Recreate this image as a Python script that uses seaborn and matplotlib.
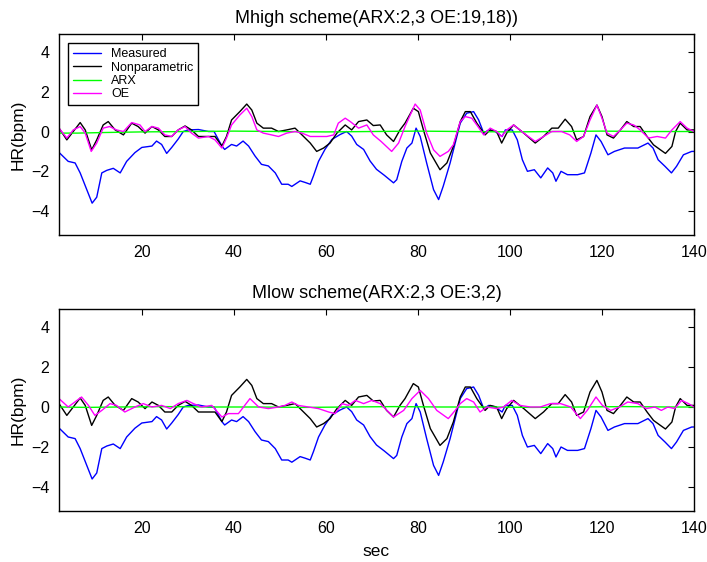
import numpy as np
import pandas as pd
import matplotlib
matplotlib.use("Agg")
import matplotlib.pyplot as plt
import seaborn as sns

# ---------------- data ----------------
meas_t = [2.0, 4.0, 5.5, 6.6, 8.0, 9.2, 10.2, 11.3, 12.4, 13.8, 15.3, 16.7, 18.5, 20.0,
          22.2, 23.2, 24.3, 25.4, 26.5, 27.9, 29.0, 30.1, 32.3, 34.5, 35.7, 37.4, 38.0,
          39.5, 40.6, 42.0, 43.2, 44.6, 46.0, 47.5, 49.0, 50.4, 51.8, 52.6, 54.4, 55.5,
          56.6, 57.3, 58.4, 59.8, 61.3, 63.1, 64.5, 65.6, 66.7, 68.2, 69.6, 71.0, 72.7,
          74.7, 75.4, 76.5, 77.6, 78.7, 79.6, 80.5, 81.9, 83.4, 84.5, 85.5, 87.0, 88.1,
          89.2, 90.6, 92.1, 93.2, 94.3, 95.4, 96.8, 98.3, 99.0, 100.5, 101.6, 102.7,
          103.8, 105.3, 106.7, 108.2, 109.3, 110.0, 111.1, 112.5, 114.7, 116.2, 117.6,
          118.7, 119.8, 121.3, 122.7, 124.9, 127.8, 130.0, 131.1, 132.2, 133.7, 135.1,
          136.2, 137.7, 139.5, 140.0]
meas_v = [-1.05, -1.5, -1.58, -2.08, -2.9, -3.6, -3.3, -2.08, -1.95, -1.85, -2.08, -1.5,
          -1.06, -0.8, -0.73, -0.48, -0.65, -1.1, -0.8, -0.38, 0.0, 0.08, 0.1, 0.0, 0.0,
          -0.73, -0.9, -0.65, -0.73, -0.48, -0.73, -1.23, -1.65, -1.73, -2.08, -2.65,
          -2.65, -2.76, -2.48, -2.56, -2.65, -2.23, -1.5, -0.9, -0.4, -0.15, 0.0, -0.23,
          -0.65, -0.9, -1.48, -1.9, -2.2, -2.58, -2.42, -1.5, -0.83, -0.58, 0.17, -0.25,
          -1.58, -2.92, -3.42, -2.75, -1.58, -0.58, 0.42, 0.92, 1.0, 0.58, -0.08, 0.08,
          0.0, -0.25, 0.08, 0.08, -0.42, -1.42, -2.0, -1.92, -2.33, -1.83, -2.08, -2.5,
          -2.0, -2.17, -2.17, -2.08, -1.08, -0.17, -0.5, -1.17, -1.0, -0.83, -0.83, -0.58,
          -0.83, -1.42, -1.75, -2.08, -1.75, -1.17, -1.0, -1.0]

nonpar_t = [2.0, 3.7, 5.1, 6.6, 7.7, 9.1, 10.2, 11.6, 12.7, 14.2, 16.0, 17.8, 19.2, 20.7,
            22.2, 23.6, 25.0, 26.5, 27.9, 29.4, 30.8, 32.3, 34.5, 35.9, 37.4, 38.4, 39.5,
            41.3, 42.8, 43.9, 45.0, 46.4, 48.2, 49.7, 51.5, 53.3, 54.8, 56.6, 58.0, 59.5,
            60.9, 62.4, 64.2, 65.6, 67.1, 68.9, 70.3, 71.8, 73.2, 74.7, 76.1, 77.2, 79.0,
            80.1, 81.2, 82.7, 84.8, 86.3, 87.7, 89.2, 90.3, 91.4, 92.8, 94.6, 95.7, 97.1,
            98.2, 99.3, 100.8, 103.0, 105.5, 107.3, 109.1, 110.5, 112.0, 113.4, 114.5,
            116.0, 117.4, 118.9, 120.0, 121.1, 122.5, 124.0, 125.4, 126.9, 128.3, 129.8,
            131.2, 132.7, 133.8, 135.2, 136.0, 137.0, 138.5, 140.0]
nonpar_v = [0.17, -0.42, 0.0, 0.45, 0.08, -0.92, -0.42, 0.33, 0.5, 0.08, -0.17, 0.42,
            0.25, -0.08, 0.25, 0.08, -0.25, -0.25, 0.08, 0.28, 0.08, -0.25, -0.25, -0.25,
            -0.73, -0.25, 0.58, 1.0, 1.38, 1.08, 0.42, 0.17, 0.17, 0.0, 0.08, 0.17, -0.17,
            -0.58, -1.0, -0.83, -0.58, -0.08, 0.33, 0.08, 0.5, 0.58, 0.3, 0.33, -0.17,
            -0.5, 0.08, 0.42, 1.17, 1.0, 0.08, -1.08, -1.92, -1.58, -0.75, 0.5, 1.0, 1.0,
            0.42, -0.17, 0.08, 0.0, -0.58, -0.08, 0.33, -0.08, -0.58, -0.25, 0.17, 0.17,
            0.62, 0.25, -0.42, -0.25, 0.75, 1.33, 0.75, -0.17, -0.33, 0.08, 0.5, 0.25,
            0.25, -0.25, -0.67, -0.92, -1.1, -0.75, 0.0, 0.42, 0.08, 0.08]

arx_hi_t = [2, 6, 12, 20, 30, 40, 50, 60, 70, 80, 90, 100, 110, 120, 130, 140]
arx_hi_v = [-0.08, -0.08, -0.05, -0.02, 0.0, 0.02, 0.0, -0.02, 0.0, 0.02, 0.0, -0.02,
            0.0, 0.02, 0.0, 0.0]

oe_hi_t = [2.0, 3.7, 5.1, 6.6, 7.7, 9.0, 10.2, 11.6, 13.0, 14.5, 16.0, 17.8, 19.6, 20.7,
           22.2, 23.6, 25.0, 26.5, 27.9, 29.4, 30.8, 32.3, 34.5, 35.9, 37.4, 38.4, 39.5,
           41.3, 42.8, 43.9, 45.0, 46.4, 48.2, 49.7, 51.5, 53.3, 54.8, 56.6, 58.4, 60.2,
           61.7, 62.7, 64.2, 65.3, 67.1, 68.9, 70.3, 72.0, 74.3, 75.8, 77.2, 79.4, 80.5,
           81.9, 83.4, 84.8, 86.6, 87.7, 89.2, 90.3, 91.7, 92.8, 94.3, 95.7, 97.1, 98.2,
           99.3, 100.8, 103.0, 105.5, 107.3, 109.1, 111.2, 113.0, 114.5, 116.0, 117.4,
           118.9, 120.0, 121.1, 122.5, 124.0, 125.4, 126.9, 128.3, 130.1, 132.0, 133.8,
           135.2, 137.0, 138.5, 140.0]
oe_hi_v = [0.17, -0.33, 0.08, 0.25, -0.08, -1.0, -0.58, 0.17, 0.25, 0.08, 0.0, 0.45, 0.33,
           0.0, 0.25, 0.17, -0.17, -0.25, 0.08, 0.25, -0.08, -0.33, -0.25, -0.42, -0.83,
           -0.33, 0.33, 0.83, 1.17, 0.75, 0.08, -0.08, -0.17, -0.25, -0.08, 0.0, -0.08,
           -0.25, -0.25, -0.25, -0.17, 0.42, 0.67, 0.5, 0.17, 0.33, -0.17, -0.5, -1.0,
           -0.58, 0.25, 1.38, 1.08, -0.08, -0.92, -1.25, -1.0, -0.67, 0.5, 0.75, 0.67,
           0.33, -0.17, 0.17, 0.0, -0.25, 0.08, 0.33, -0.08, -0.5, -0.25, 0.0, 0.0, -0.17,
           -0.5, -0.25, 0.58, 1.33, 0.67, -0.08, -0.25, 0.08, 0.42, 0.33, 0.08, -0.33,
           -0.25, -0.33, 0.08, 0.5, 0.17, 0.0]

arx_lo_t = [2, 8, 15, 25, 35, 45, 55, 65, 75, 85, 95, 105, 115, 125, 135, 140]
arx_lo_v = [0.0, -0.02, 0.0, 0.02, 0.0, 0.0, -0.02, 0.0, 0.02, 0.0, 0.0, -0.02, 0.0,
            0.02, 0.0, 0.0]

oe_lo_t = [2.0, 4.0, 6.9, 8.4, 9.8, 11.3, 13.1, 14.5, 16.3, 18.5, 20.3, 22.2, 24.3, 26.2,
           27.9, 29.8, 31.2, 33.0, 35.2, 37.4, 38.8, 41.0, 43.5, 45.4, 47.5, 49.7, 51.1,
           52.6, 54.0, 56.2, 58.4, 60.6, 62.0, 63.5, 64.9, 66.4, 68.2, 70.0, 71.8, 74.7,
           76.9, 78.7, 80.5, 82.3, 84.1, 86.6, 88.1, 89.2, 90.6, 92.1, 93.5, 95.0, 97.1,
           98.6, 100.4, 102.2, 104.4, 106.6, 108.8, 111.0, 113.2, 115.3, 116.8, 118.7,
           120.1, 121.9, 123.8, 125.6, 127.8, 129.6, 131.5, 132.9, 134.3, 135.8, 137.3,
           138.8, 140.0]
oe_lo_v = [0.42, 0.0, 0.5, 0.08, -0.42, -0.17, 0.17, 0.08, -0.25, 0.0, 0.17, 0.0, 0.08,
           -0.08, 0.17, 0.33, 0.17, 0.0, 0.08, -0.5, -0.33, -0.33, 0.42, 0.0, -0.08, 0.0,
           0.08, 0.25, 0.08, 0.0, -0.08, -0.25, -0.33, 0.17, 0.08, 0.33, 0.17, 0.33, 0.17,
           -0.5, -0.17, 0.42, 0.83, 0.42, -0.17, -0.58, -0.17, 0.17, 0.42, 0.25, -0.25,
           0.0, -0.08, 0.0, 0.33, 0.08, 0.0, 0.0, 0.17, 0.17, 0.0, -0.58, -0.17, 0.5, 0.08,
           -0.17, 0.0, 0.25, 0.17, -0.08, 0.0, -0.17, 0.0, -0.08, 0.33, 0.17, 0.0]

series_names = ["Measured", "Nonparametric", "ARX", "OE"]
titles = ["Mhigh scheme(ARX:2,3 OE:19,18))", "Mlow scheme(ARX:2,3 OE:3,2)"]
x_ticks = [20, 40, 60, 80, 100, 120, 140]
y_ticks = [-4, -2, 0, 2, 4]

# ---------------- style ----------------
sns.set_theme(style="white")
plt.rcParams["font.family"] = ["Liberation Sans", "DejaVu Sans"]
plt.rcParams.update({
    "xtick.direction": "in", "ytick.direction": "in",
    "xtick.top": True, "ytick.right": True,
    "xtick.major.size": 4, "ytick.major.size": 4,
    "xtick.major.width": 0.8, "ytick.major.width": 0.8,
    "axes.edgecolor": "black", "axes.linewidth": 1.0,
    "xtick.color": "black", "ytick.color": "black",
    "text.color": "black", "axes.labelcolor": "black",
})

colors = {"Measured": "#0000ff", "Nonparametric": "#000000",
          "ARX": "#00ff00", "OE": "#ff00ff"}

fig = plt.figure(figsize=(7.07, 5.62), dpi=100)
ax_positions = [[59 / 707, 1 - 235 / 562, 635 / 707, 201 / 562],
                [59 / 707, 1 - 511 / 562, 635 / 707, 202 / 562]]

panels = [
    [(meas_t, meas_v), (nonpar_t, nonpar_v), (arx_hi_t, arx_hi_v), (oe_hi_t, oe_hi_v)],
    [(meas_t, meas_v), (nonpar_t, nonpar_v), (arx_lo_t, arx_lo_v), (oe_lo_t, oe_lo_v)],
]

for i, (pos, panel) in enumerate(zip(ax_positions, panels)):
    ax = fig.add_axes(pos)
    for name, (t, v) in zip(series_names, panel):
        df = pd.DataFrame({"t": t, "v": v})
        sns.lineplot(data=df, x="t", y="v", ax=ax, color=colors[name],
                     linewidth=1.0, label=name if i == 0 else None,
                     estimator=None, sort=False)
    ax.set_xlim(2, 140)
    ax.set_ylim(-5.2, 4.9)
    ax.set_xticks(x_ticks)
    ax.set_yticks(y_ticks)
    ax.tick_params(labelsize=11.5, pad=7)
    ax.set_title(titles[i], fontsize=13, pad=8)
    ax.set_ylabel("HR(bpm)", fontsize=12.5, labelpad=4)
    ax.set_xlabel("sec" if i == 1 else "", fontsize=12.5, labelpad=6)
    for s in ax.spines.values():
        s.set_visible(True)
        s.set_color("black")
    if i == 0:
        leg = ax.legend(loc="upper left", fontsize=9, frameon=True, fancybox=False,
                        edgecolor="black", handlelength=2.2, handletextpad=0.8,
                        labelspacing=0.1, borderpad=0.4, borderaxespad=0.75)
        leg.get_frame().set_linewidth(1.0)
        leg.get_frame().set_alpha(1.0)
    else:
        if ax.get_legend() is not None:
            ax.get_legend().remove()

fig.savefig("out.png", dpi=100)
